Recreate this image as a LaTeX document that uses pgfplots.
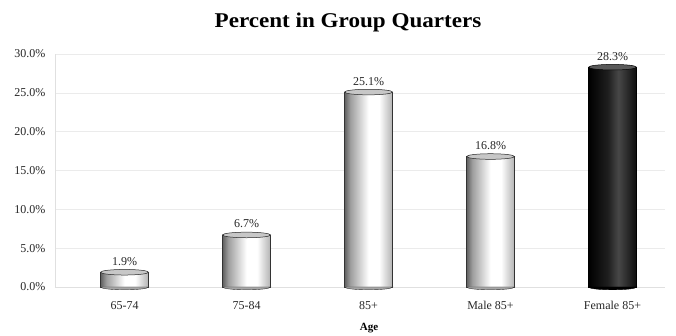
\documentclass[border=0pt]{standalone}
\usepackage{fontspec}
\setmainfont{Liberation Serif}
\newfontfamily\titlefont[FakeStretch=1.1]{Liberation Serif}
\usepackage{pgfplots}
\pgfplotsset{compat=1.18}
\pgfdeclarehorizontalshading{cylw}{100bp}{color(0bp)=(black!62); color(25bp)=(black!62); color(31bp)=(black!38); color(50bp)=(white); color(61bp)=(white); color(75bp)=(black!30); color(100bp)=(black!30)}
\pgfdeclarehorizontalshading{cylk}{100bp}{color(0bp)=(black); color(25bp)=(black); color(45bp)=(black!88); color(56bp)=(black!72); color(75bp)=(black!95); color(100bp)=(black!95)}
\pgfdeclareplotmark{cylell}{%
  \pgfpathellipse{\pgfpointorigin}{\pgfqpoint{24pt}{0pt}}{\pgfqpoint{0pt}{2.8pt}}%
  \pgfusepathqfillstroke}
\pgfdeclareplotmark{cylhalf}{%
  \pgfpathmoveto{\pgfqpoint{-24pt}{0pt}}%
  \pgfpatharc{180}{360}{24pt and 2.8pt}%
  \pgfpathclose
  \pgfusepathqfillstroke}
\pgfplotsset{
  cylbar/.style={ybar, bar width=48pt, bar shift=0pt, line width=0.4pt,
    nodes near coords={\pgfmathprintnumber[fixed,fixed zerofill,precision=1]{\pgfplotspointmeta}\%},
    every node near coord/.append style={font=\fontsize{12}{14}\selectfont, text=black!85, anchor=base, yshift=7pt}},
}
\begin{document}
\begin{tikzpicture}
\path[use as bounding box] (-55pt,-49pt) rectangle (621pt,287pt);
\begin{axis}[
  at={(0,0)}, anchor=south west,
  scale only axis, width=610pt, height=233pt,
  xmin=-0.57, xmax=4.43, ymin=0, ymax=30,
  xtick={0,1,2,3,4},
  xticklabels={65-74,75-84,85+,Male 85+,Female 85+},
  ytick={0,5,10,15,20,25,30},
  /pgf/number format/assume math mode=true,
  yticklabel={\pgfmathprintnumber[fixed,fixed zerofill,precision=1]{\tick}\%},
  tick label style={font=\fontsize{12}{14}\selectfont, text=black!85},
  yticklabel style={xshift=-6pt},
  xticklabel style={anchor=base, yshift=-23pt},
  major tick length=0pt,
  ymajorgrids, grid style={black!8, line width=0.6pt},
  axis line style={black!12},
  axis x line*=bottom, axis y line*=left,
  title={Percent in Group Quarters},
  title style={font=\fontsize{21}{25}\titlefont\bfseries, at={(0.5,1)}, anchor=base, yshift=20pt, xshift=-12pt},
  xlabel={Age},
  xlabel style={font=\fontsize{11}{13}\selectfont\bfseries, at={(axis description cs:0.515,0)}, anchor=base, yshift=-44pt},
  clip=false,
]
% bodies
\addplot[cylbar, draw=black!80, shading=cylw] coordinates {(0,1.9)};
\addplot[cylbar, draw=black!80, shading=cylw] coordinates {(1,6.7)};
\addplot[cylbar, draw=black!80, shading=cylw] coordinates {(2,25.1)};
\addplot[cylbar, draw=black!80, shading=cylw] coordinates {(3,16.8)};
\addplot[cylbar, draw=black, shading=cylk] coordinates {(4,28.3)};
% bottom half ellipses
\addplot[only marks, mark=cylhalf, mark options={draw=black!80, fill=black!35, line width=0.4pt}] coordinates {(0,0) (1,0) (2,0) (3,0)};
\addplot[only marks, mark=cylhalf, mark options={draw=black, fill=black, line width=0.4pt}] coordinates {(4,0)};
% top ellipses
\addplot[only marks, mark=cylell, mark options={draw=black!85, fill=black!22, line width=0.5pt}] coordinates {(0,1.9) (1,6.7) (2,25.1) (3,16.8)};
\addplot[only marks, mark=cylell, mark options={draw=black, fill=black!65, line width=0.5pt}] coordinates {(4,28.3)};
\end{axis}
\end{tikzpicture}
\end{document}
